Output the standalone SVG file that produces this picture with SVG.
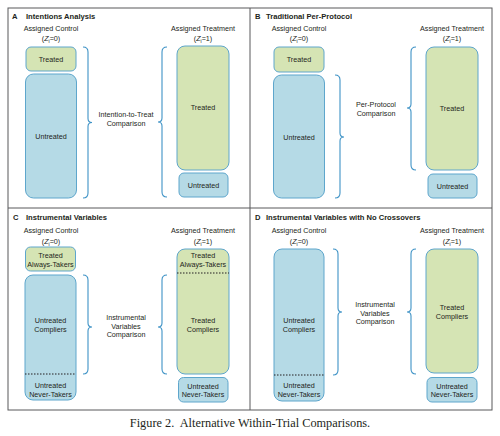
<svg xmlns="http://www.w3.org/2000/svg" width="500" height="436" viewBox="0 0 500 436">
<style>
text{font-family:"Liberation Sans",Arial,sans-serif;font-size:7.2px;fill:#231f20;text-anchor:middle}
.t{font-weight:bold;text-anchor:start;font-size:7.6px}
.g{fill:#d5e4b4;stroke:#5ea6cc;stroke-width:1}
.b{fill:#b5dae6;stroke:#5ea6cc;stroke-width:1}
.br{fill:none;stroke:#3f93c6;stroke-width:1.1}
.dot{stroke:#231f20;stroke-width:1;stroke-dasharray:1.5 1.5}
.frame{fill:none;stroke:#58595b;stroke-width:1}
.cap{font-family:"Liberation Serif","Times New Roman",serif;font-size:12.3px}
.z{font-style:italic}
</style>
<rect width="500" height="436" fill="#fff"/>
<g id="frame">
<rect class="frame" x="8" y="8" width="484" height="402"/>
<line class="frame" x1="250" y1="8" x2="250" y2="410"/>
<line class="frame" x1="8" y1="208" x2="492" y2="208"/>
</g>

<!-- Panel A -->
<g id="panelA">
<text class="t" x="12" y="19">A</text>
<text class="t" x="26" y="19">Intentions Analysis</text>
<text x="51" y="31">Assigned Control</text>
<text x="51" y="41">(<tspan class="z">Z</tspan><tspan font-size="5" dy="1.5">i</tspan><tspan dy="-1.5">=0)</tspan></text>
<text x="203" y="31">Assigned Treatment</text>
<text x="203" y="41">(<tspan class="z">Z</tspan><tspan font-size="5" dy="1.5">i</tspan><tspan dy="-1.5">=1)</tspan></text>
<g id="A-ctrl-treated"><rect class="g" x="26" y="47" width="50" height="24" rx="5"/><text x="51" y="62">Treated</text></g>
<g id="A-ctrl-untreated"><rect class="b" x="25.5" y="74" width="51" height="124" rx="8"/><text x="51" y="139">Untreated</text></g>
<g id="A-trt-treated"><rect class="g" x="177" y="46" width="52" height="124" rx="8"/><text x="203" y="110">Treated</text></g>
<g id="A-trt-untreated"><rect class="b" x="179" y="173" width="49" height="24" rx="5"/><text x="203.5" y="188">Untreated</text></g>
<text x="126" y="117">Intention-to-Treat</text>
<text x="126" y="126">Comparison</text>
</g>

<!-- Panel B -->
<g id="panelB">
<text class="t" x="255" y="19">B</text>
<text class="t" x="266" y="19">Traditional Per-Protocol</text>
<text x="299" y="31">Assigned Control</text>
<text x="299" y="41">(<tspan class="z">Z</tspan><tspan font-size="5" dy="1.5">i</tspan><tspan dy="-1.5">=0)</tspan></text>
<text x="452" y="31">Assigned Treatment</text>
<text x="452" y="41">(<tspan class="z">Z</tspan><tspan font-size="5" dy="1.5">i</tspan><tspan dy="-1.5">=1)</tspan></text>
<g id="B-ctrl-treated"><rect class="g" x="274" y="47" width="50" height="25" rx="5"/><text x="299" y="62">Treated</text></g>
<g id="B-ctrl-untreated"><rect class="b" x="273.5" y="75" width="51" height="123" rx="8"/><text x="299" y="140">Untreated</text></g>
<g id="B-trt-treated"><rect class="g" x="426" y="47" width="52" height="123" rx="8"/><text x="452" y="111">Treated</text></g>
<g id="B-trt-untreated"><rect class="b" x="428" y="174" width="49" height="24" rx="5"/><text x="452.5" y="189">Untreated</text></g>
<text x="376" y="107">Per-Protocol</text>
<text x="376" y="116">Comparison</text>
</g>

<!-- Panel C -->
<g id="panelC">
<text class="t" x="13" y="220">C</text>
<text class="t" x="26" y="220">Instrumental Variables</text>
<text x="51" y="233">Assigned Control</text>
<text x="51" y="244">(<tspan class="z">Z</tspan><tspan font-size="5" dy="1.5">i</tspan><tspan dy="-1.5">=0)</tspan></text>
<text x="203" y="233">Assigned Treatment</text>
<text x="203" y="244">(<tspan class="z">Z</tspan><tspan font-size="5" dy="1.5">i</tspan><tspan dy="-1.5">=1)</tspan></text>
<g id="C-ctrl-always"><rect class="g" x="25.5" y="247" width="50" height="24" rx="5"/><text x="50.5" y="258">Treated</text><text x="50.5" y="266.5">Always-Takers</text></g>
<g id="C-ctrl-untreated"><rect class="b" x="25" y="275" width="51" height="125" rx="8"/>
<line class="dot" x1="25" y1="374" x2="76" y2="374"/>
<text x="50.5" y="323">Untreated</text><text x="50.5" y="332">Compliers</text>
<text x="50.5" y="388">Untreated</text><text x="50.5" y="396.5">Never-Takers</text></g>
<g id="C-trt-treated"><rect class="g" x="177" y="249" width="52" height="125" rx="8"/>
<line class="dot" x1="177" y1="273" x2="229" y2="273"/>
<text x="203" y="258">Treated</text><text x="203" y="266.5">Always-Takers</text>
<text x="203" y="323">Treated</text><text x="203" y="332">Compliers</text></g>
<g id="C-trt-never"><rect class="b" x="178.5" y="377.5" width="49.5" height="24.5" rx="5"/><text x="203" y="388.5">Untreated</text><text x="203" y="397">Never-Takers</text></g>
<text x="126" y="320">Instrumental</text>
<text x="126" y="328.5">Variables</text>
<text x="126" y="337">Comparison</text>
</g>

<!-- Panel D -->
<g id="panelD">
<text class="t" x="255" y="220">D</text>
<text class="t" x="266" y="220">Instrumental Variables with No Crossovers</text>
<text x="299" y="233">Assigned Control</text>
<text x="299" y="244">(<tspan class="z">Z</tspan><tspan font-size="5" dy="1.5">i</tspan><tspan dy="-1.5">=0)</tspan></text>
<text x="452" y="233">Assigned Treatment</text>
<text x="452" y="244">(<tspan class="z">Z</tspan><tspan font-size="5" dy="1.5">i</tspan><tspan dy="-1.5">=1)</tspan></text>
<g id="D-ctrl-untreated"><rect class="b" x="274" y="249" width="50" height="152" rx="8"/>
<line class="dot" x1="274" y1="375" x2="324" y2="375"/>
<text x="299" y="323">Untreated</text><text x="299" y="332">Compliers</text>
<text x="299" y="388">Untreated</text><text x="299" y="396.5">Never-Takers</text></g>
<g id="D-trt-treated"><rect class="g" x="426" y="249" width="52" height="124" rx="8"/>
<text x="452" y="310">Treated</text><text x="452" y="318.5">Compliers</text></g>
<g id="D-trt-never"><rect class="b" x="427" y="377.5" width="50" height="24.5" rx="5"/><text x="452" y="388.5">Untreated</text><text x="452" y="397">Never-Takers</text></g>
<text x="375" y="307">Instrumental</text>
<text x="375" y="315.5">Variables</text>
<text x="375" y="324">Comparison</text>
</g>

<g id="connectors">
<path class="br" d="M83,47 q5,0 5,5 V118.5 q0,4 4,4 q-4,0 -4,4 V193 q0,5 -5,5"/>
<path class="br" d="M167,47 q-5,0 -5,5 V118 q0,4 -4,4 q4,0 4,4 V192 q0,5 5,5"/>
<path class="br" d="M335,75 q5,0 5,5 V133 q0,4 4,4 q-4,0 -4,4 V193 q0,5 -5,5"/>
<path class="br" d="M416,47 q-5,0 -5,5 V104 q0,4 -4,4 q4,0 4,4 V165 q0,5 5,5"/>
<path class="br" d="M83,275 q5,0 5,5 V323 q0,4 4,4 q-4,0 -4,4 V369 q0,5 -5,5"/>
<path class="br" d="M167,275 q-5,0 -5,5 V323 q0,4 -4,4 q4,0 4,4 V369 q0,5 5,5"/>
<path class="br" d="M333,249 q5,0 5,5 V308 q0,4 4,4 q-4,0 -4,4 V370 q0,5 -5,5"/>
<path class="br" d="M416,249 q-5,0 -5,5 V308 q0,4 -4,4 q4,0 4,4 V369 q0,5 5,5"/>
</g>

<text class="cap" x="250" y="427">Figure 2.&#160; Alternative Within-Trial Comparisons.</text>
</svg>
